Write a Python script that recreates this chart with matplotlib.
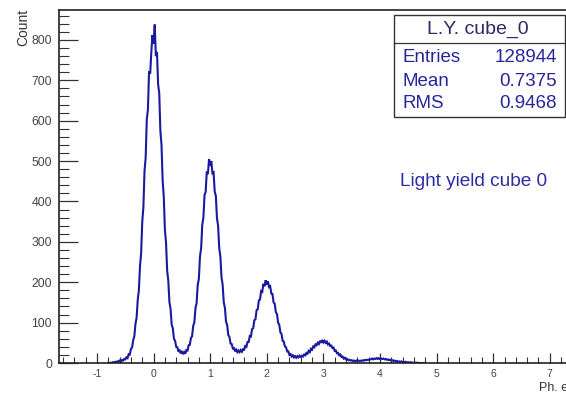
import numpy as np
import matplotlib
matplotlib.use("Agg")
import matplotlib.pyplot as plt
from matplotlib.patches import Rectangle
from matplotlib.lines import Line2D
from matplotlib.ticker import MultipleLocator

plt.rcParams['font.family'] = ['Liberation Sans', 'DejaVu Sans']

# histogram: light yield of cube 0, bins of 0.02 ph.e. starting at -0.80
bin_lo = -0.80
bin_width = 0.02
counts = [
    0, 0, 1, 0, 2, 1, 3, 2, 4, 3,                              # -0.80
    6, 4, 7, 6, 10, 9, 14, 12, 22, 21,                         # -0.60
    35, 38, 57, 66, 97, 112, 156, 180, 240, 272,               # -0.40
    350, 386, 476, 508, 603, 628, 722, 716, 770, 812,          # -0.20
    790, 838, 760, 770, 690, 668, 575, 540, 452, 412,          # 0.00
    330, 298, 228, 204, 150, 134, 95, 86, 60, 55,              # 0.20
    40, 39, 28, 31, 24, 28, 22, 27, 23, 32,                    # 0.40
    31, 44, 45, 62, 66, 92, 100, 136, 148, 194,                # 0.60
    208, 264, 284, 342, 360, 415, 424, 474, 468, 505,          # 0.80
    488, 500, 470, 472, 424, 414, 358, 340, 284, 264,          # 1.00
    212, 194, 150, 137, 102, 94, 69, 65, 48, 47,               # 1.20
    36, 37, 29, 33, 27, 31, 27, 32, 28, 34,                    # 1.40
    33, 42, 40, 52, 52, 67, 66, 84, 86, 106,                   # 1.60
    108, 131, 133, 155, 157, 178, 176, 196, 190, 205,          # 1.80
    194, 202, 188, 190, 172, 171, 150, 147, 126, 121,          # 2.00
    100, 95, 76, 72, 55, 53, 41, 39, 29, 29,                   # 2.20
    20, 22, 16, 19, 14, 17, 13, 17, 14, 18,                    # 2.40
    15, 18, 16, 21, 19, 25, 23, 30, 27, 35,                    # 2.60
    33, 41, 39, 46, 44, 50, 47, 55, 50, 57,                    # 2.80
    51, 55, 50, 53, 46, 48, 42, 43, 37, 38,                    # 3.00
    30, 31, 24, 25, 19, 21, 15, 16, 11, 13,                    # 3.20
    9, 10, 7, 8, 6, 7, 5, 6, 4, 6,                             # 3.40
    5, 6, 5, 6, 5, 7, 6, 8, 7, 8,                              # 3.60
    8, 9, 9, 11, 9, 11, 10, 12, 10, 12,                        # 3.80
    10, 11, 10, 11, 9, 10, 8, 9, 7, 8,                         # 4.00
    6, 7, 5, 6, 4, 5, 3, 4, 3, 4,                              # 4.20
    2, 3, 2, 3, 1, 2, 1, 2, 1, 1,                              # 4.40
    0, 1, 0, 1, 0, 0, 0, 0, 0, 0,                              # 4.60
]

stats_title = "L.Y. cube_0"
stats_names = ["Entries", "Mean", "RMS"]
stats_values = ["128944", "0.7375", "0.9468"]
label_text = "Light yield cube 0"
x_title = "Ph. e."
y_title = "Count"

W, H = 566, 395
blue = "#1a1aa0"
txt_blue = "#26269a"


def fx(px):
    return px / W


def fy(py):
    return 1 - py / H


fig = plt.figure(figsize=(W / 100, H / 100), dpi=100)
ax_left, ax_right, ax_top, ax_bot = 59, 600, 10, 363
ax = fig.add_axes([fx(ax_left), fy(ax_bot), (ax_right - ax_left) / W, (ax_bot - ax_top) / H])

centers = bin_lo + bin_width * np.arange(len(counts))
ax.plot(centers, counts, color=blue, lw=1.5, solid_joinstyle="miter")

ax.set_xlim(-1.671, 7.887)
ax.set_ylim(0, 874)

for s in ["left", "bottom", "top"]:
    ax.spines[s].set_color("#222222")
    ax.spines[s].set_linewidth(1.2)
ax.spines["right"].set_visible(False)

ax.xaxis.set_major_locator(MultipleLocator(1))
ax.xaxis.set_minor_locator(MultipleLocator(0.2))
ax.yaxis.set_major_locator(MultipleLocator(100))
ax.yaxis.set_minor_locator(MultipleLocator(20))
ax.tick_params(axis="x", which="major", direction="in", length=7, width=0.9,
               color="#333333", labelsize=7.5, labelcolor="#444444", pad=4)
ax.tick_params(axis="x", which="minor", direction="in", length=4, width=0.8, color="#333333")
ax.tick_params(axis="y", which="major", direction="in", length=14, width=0.9,
               color="#333333", labelsize=8.8, labelcolor="#444444", pad=5)
ax.tick_params(axis="y", which="minor", direction="in", length=7, width=0.8, color="#333333")
ax.tick_params(top=False, right=False, which="both")
ax.xaxis.set_major_formatter(lambda v, pos: f"{int(round(v))}")

fig.text(fx(23), fy(9), y_title, rotation=90, ha="center", va="top", fontsize=10, color="#333333")
fig.text(fx(539), fy(382), x_title, ha="left", va="top", fontsize=9, color="#333333")

# stats box
bx0, bx1, by0, by1 = 394, 565, 15, 117
fig.add_artist(Rectangle((fx(bx0), fy(by1)), fx(bx1) - fx(bx0), fy(by0) - fy(by1),
                         transform=fig.transFigure, facecolor="white",
                         edgecolor="#333333", lw=1.0))
fig.add_artist(Line2D([fx(bx0), fx(bx1)], [fy(43), fy(43)], transform=fig.transFigure,
                      color="#333333", lw=0.9))
fig.text(fx(478), fy(29), stats_title, ha="center", va="center", fontsize=14, color="#2a2a6a")
row_y = [57, 81, 104]
for name, val, yy in zip(stats_names, stats_values, row_y):
    fig.text(fx(402), fy(yy), name, ha="left", va="center", fontsize=13.5, color=txt_blue)
    fig.text(fx(557), fy(yy), val, ha="right", va="center", fontsize=13.5, color=txt_blue)

fig.text(fx(400), fy(182), label_text, ha="left", va="center", fontsize=13.7, color="#2c2ca8")

fig.savefig("out.png", dpi=100)
